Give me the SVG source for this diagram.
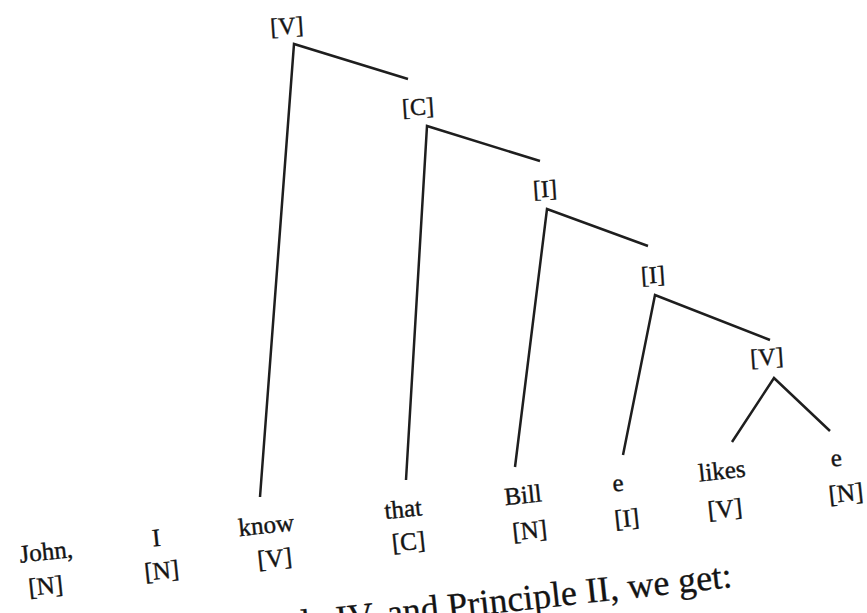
<svg xmlns="http://www.w3.org/2000/svg" width="867" height="613" viewBox="0 0 867 613">
  <style>
    .lbl { font-family: "Liberation Serif", "Times New Roman", serif; font-size: 25px; fill: #141414; stroke: #141414; stroke-width: 0.4; text-anchor: middle; }
    .cat { font-family: "Liberation Serif", "Times New Roman", serif; font-size: 24px; fill: #141414; stroke: #141414; stroke-width: 0.4; text-anchor: middle; }
    .body { font-family: "Liberation Serif", "Times New Roman", serif; font-size: 36px; fill: #141414; stroke: #141414; stroke-width: 0.3; text-anchor: end; }
    .edge { fill: none; stroke: #1e1e1e; stroke-width: 2.5; stroke-linejoin: miter; stroke-linecap: butt; }
  </style>
  <rect width="867" height="613" fill="#ffffff"/>

  <g id="connectors">
    <polyline class="edge" points="260,497 294,44 408,79"/>
    <polyline class="edge" points="406,480 427,126 540,161"/>
    <polyline class="edge" points="515,467 547,209 648,246"/>
    <polyline class="edge" points="623,455 655,295 770,340"/>
    <polyline class="edge" points="732,442 774,378 830,431"/>
  </g>

  <g id="node-V-top"><text class="cat" x="287" y="34" transform="rotate(-4 287 27)">[V]</text></g>
  <g id="node-C"><text class="cat" x="418" y="115" transform="rotate(-4 418 108)">[C]</text></g>
  <g id="node-I1"><text class="cat" x="545" y="197" transform="rotate(-4 545 190)">[I]</text></g>
  <g id="node-I2"><text class="cat" x="653" y="283" transform="rotate(-4 653 276)">[I]</text></g>
  <g id="node-V2"><text class="cat" x="767" y="365" transform="rotate(-4 767 358)">[V]</text></g>

  <g id="leaf-john" transform="rotate(-6 46 570)">
    <text class="lbl" x="48" y="560">John,</text>
    <text class="lbl" x="44" y="594">[N]</text>
  </g>
  <g id="leaf-I" transform="rotate(-6 159 555)">
    <text class="lbl" x="158" y="546">I</text>
    <text class="lbl" x="160" y="579">[N]</text>
  </g>
  <g id="leaf-know" transform="rotate(-6 270 543)">
    <text class="lbl" x="268" y="533">know</text>
    <text class="lbl" x="273" y="567">[V]</text>
  </g>
  <g id="leaf-that" transform="rotate(-6 406 527)">
    <text class="lbl" x="405" y="517">that</text>
    <text class="lbl" x="407" y="550">[C]</text>
  </g>
  <g id="leaf-bill" transform="rotate(-6 526 514)">
    <text class="lbl" x="525" y="503">Bill</text>
    <text class="lbl" x="528" y="539">[N]</text>
  </g>
  <g id="leaf-e1" transform="rotate(-6 622 502)">
    <text class="lbl" x="620" y="491">e</text>
    <text class="lbl" x="625" y="527">[I]</text>
  </g>
  <g id="leaf-likes" transform="rotate(-6 724 491)">
    <text class="lbl" x="724" y="479">likes</text>
    <text class="lbl" x="723" y="517">[V]</text>
  </g>
  <g id="leaf-e2" transform="rotate(-6 839 476)">
    <text class="lbl" x="838" y="466">e</text>
    <text class="lbl" x="844" y="502">[N]</text>
  </g>

  <text class="body" x="733" y="587" transform="rotate(-6.3 733 587)">Rule IV, and Principle II, we get:</text>
</svg>
